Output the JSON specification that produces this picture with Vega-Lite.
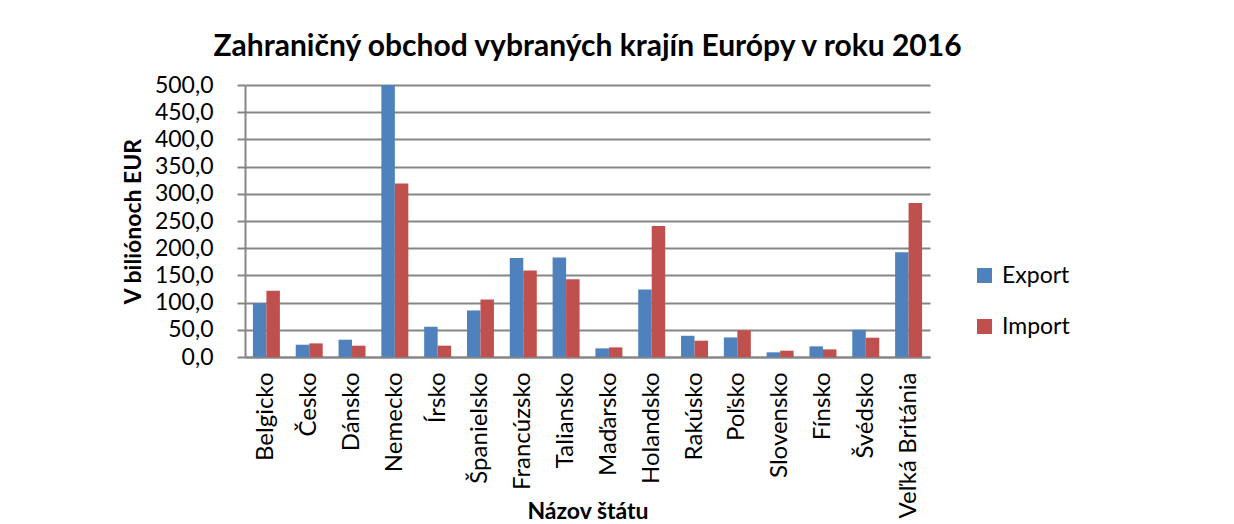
{
  "$schema": "https://vega.github.io/schema/vega-lite/v6.json",
  "autosize": {"type": "none"},
  "width": 685,
  "height": 272,
  "padding": {"left": 245, "top": 85, "right": 304, "bottom": 167},
  "background": "white",
  "title": {
    "text": "Zahraničný obchod vybraných krajín Európy v roku 2016",
    "fontSize": 30,
    "fontWeight": "bold",
    "font": "Lato",
    "color": "#000000",
    "anchor": "middle",
    "offset": 12
  },
  "data": {
    "values": [
      {"stat": "Belgicko", "typ": "Export", "hodnota": 99.0},
      {"stat": "Belgicko", "typ": "Import", "hodnota": 121.6},
      {"stat": "Česko", "typ": "Export", "hodnota": 22.6},
      {"stat": "Česko", "typ": "Import", "hodnota": 25.0},
      {"stat": "Dánsko", "typ": "Export", "hodnota": 31.8},
      {"stat": "Dánsko", "typ": "Import", "hodnota": 20.8},
      {"stat": "Nemecko", "typ": "Export", "hodnota": 500.0},
      {"stat": "Nemecko", "typ": "Import", "hodnota": 319.0},
      {"stat": "Írsko", "typ": "Export", "hodnota": 55.6},
      {"stat": "Írsko", "typ": "Import", "hodnota": 20.8},
      {"stat": "Španielsko", "typ": "Export", "hodnota": 85.6},
      {"stat": "Španielsko", "typ": "Import", "hodnota": 105.7},
      {"stat": "Francúzsko", "typ": "Export", "hodnota": 182.0},
      {"stat": "Francúzsko", "typ": "Import", "hodnota": 159.0},
      {"stat": "Taliansko", "typ": "Export", "hodnota": 182.8},
      {"stat": "Taliansko", "typ": "Import", "hodnota": 143.0},
      {"stat": "Maďarsko", "typ": "Export", "hodnota": 15.9},
      {"stat": "Maďarsko", "typ": "Import", "hodnota": 17.7},
      {"stat": "Holandsko", "typ": "Export", "hodnota": 124.0},
      {"stat": "Holandsko", "typ": "Import", "hodnota": 240.8},
      {"stat": "Rakúsko", "typ": "Export", "hodnota": 39.0},
      {"stat": "Rakúsko", "typ": "Import", "hodnota": 30.0},
      {"stat": "Poľsko", "typ": "Export", "hodnota": 36.0},
      {"stat": "Poľsko", "typ": "Import", "hodnota": 48.9},
      {"stat": "Slovensko", "typ": "Export", "hodnota": 8.6},
      {"stat": "Slovensko", "typ": "Import", "hodnota": 11.6},
      {"stat": "Fínsko", "typ": "Export", "hodnota": 19.6},
      {"stat": "Fínsko", "typ": "Import", "hodnota": 14.0},
      {"stat": "Švédsko", "typ": "Export", "hodnota": 50.0},
      {"stat": "Švédsko", "typ": "Import", "hodnota": 35.5},
      {"stat": "Veľká Británia", "typ": "Export", "hodnota": 192.5},
      {"stat": "Veľká Británia", "typ": "Import", "hodnota": 283.0}
    ]
  },
  "mark": {"type": "bar", "clip": true},
  "encoding": {
    "x": {
      "field": "stat",
      "type": "nominal",
      "sort": null,
      "scale": {"paddingInner": 0.37, "paddingOuter": 0.185},
      "axis": {
        "title": "Názov štátu",
        "titleFont": "Lato",
        "titleFontSize": 23,
        "titleFontWeight": "bold",
        "titleColor": "#000000",
        "titleBaseline": "alphabetic",
        "titleY": 161,
        "labelAngle": -90,
        "labelFont": "Lato",
        "labelFontSize": 24,
        "labelColor": "#000000",
        "labelPadding": 15,
        "labelOverlap": false,
        "labelLimit": 0,
        "ticks": false,
        "domainColor": "#868686",
        "domainWidth": 2,
        "grid": false
      }
    },
    "xOffset": {
      "field": "typ",
      "type": "nominal",
      "scale": {"paddingInner": 0, "paddingOuter": 0}
    },
    "y": {
      "field": "hodnota",
      "type": "quantitative",
      "scale": {"domain": [0, 500], "nice": false},
      "axis": {
        "title": "V biliónoch EUR",
        "titleFont": "Lato",
        "titleFontSize": 23,
        "titleFontWeight": "bold",
        "titleColor": "#000000",
        "titlePadding": 9,
        "values": [0, 50, 100, 150, 200, 250, 300, 350, 400, 450, 500],
        "labelExpr": "replace(format(datum.value, '.1f'), '.', ',')",
        "labelFont": "Lato",
        "labelFontSize": 23,
        "labelColor": "#000000",
        "labelPadding": 24,
        "tickSize": 8,
        "tickColor": "#868686",
        "tickWidth": 2,
        "domainColor": "#868686",
        "domainWidth": 2,
        "grid": true,
        "gridColor": "#868686",
        "gridWidth": 2
      }
    },
    "color": {
      "field": "typ",
      "type": "nominal",
      "scale": {"domain": ["Export", "Import"], "range": ["#4F81BD", "#C0504D"]},
      "legend": {
        "title": null,
        "orient": "none",
        "legendX": 728,
        "legendY": 179,
        "symbolType": "square",
        "symbolSize": 225,
        "symbolStrokeWidth": 0,
        "labelFont": "Lato",
        "labelFontSize": 23,
        "labelColor": "#000000",
        "labelOffset": 6,
        "rowPadding": 27,
        "padding": 0
      }
    }
  },
  "config": {
    "view": {"stroke": null}
  }
}
